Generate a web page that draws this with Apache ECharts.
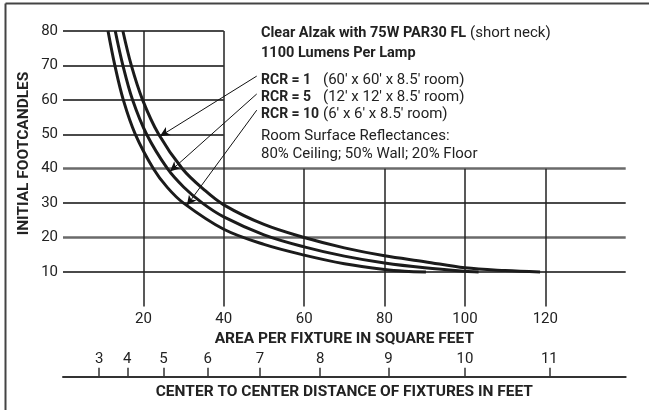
<!DOCTYPE html>
<html><head><meta charset="utf-8">
<script src="https://cdn.jsdelivr.net/npm/echarts@6/dist/echarts.min.js"></script>
<style>html,body{margin:0;padding:0;background:#fff}#c{width:649px;height:410px}</style>
</head><body><div id="c"></div>
<script>
// ---- data ----
const areaRcr1 = [14.9, 17, 19.8, 23.8, 29.7, 35, 40, 50, 60, 70, 80, 90, 100, 110, 118.7];
const fcRcr1   = [80, 70, 60, 50, 40, 34, 29.5, 23.8, 20, 17, 14.7, 13, 11.2, 10.4, 10];
const areaRcr5 = [13.0, 14.9, 17.3, 20.8, 26, 30, 34.7, 40, 50, 60, 70, 80, 90, 100, 103.4];
const fcRcr5   = [80, 70, 60, 50, 40, 34.7, 30, 26, 20.8, 17.3, 14.6, 12.6, 11.2, 10.2, 10];
const areaRcr10 = [11.2, 12.9, 15, 18, 22.5, 26, 30, 40, 50, 60, 70, 80, 85, 90.3];
const fcRcr10   = [80, 70, 60, 50, 40, 34.5, 30, 22.4, 18, 14.9, 12.4, 10.7, 10.2, 10];
const distanceTicks = [3, 4, 5, 6, 7, 8, 9, 10, 11];
// gridline segments [x1,y1,x2,y2] in data units
const hGrid = [[0,80,40,80],[0,70,40,70],[0,60,40,60],[0,50,40,50],[0,40,140,40],[0,30,140,30],[0,20,140,20],[0,10,140,10]];
const vGrid = [[20,0,20,80],[40,0,40,80],[60,0,60,40],[80,0,80,40],[100,0,100,40],[120,0,120,40]];
// arrows: label anchor -> curve point
const arrows = [[48.2,66.9,24.1,49.4],[48.2,61.7,26.6,39.2],[48.2,57.0,30.8,29.3]];

const FONT = 'Roboto, "Liberation Sans", sans-serif';
const chart = echarts.init(document.getElementById('c'), null, {renderer:'canvas'});
const zip = (a,b)=>a.map((v,i)=>[v,b[i]]);
const curve = (name, a, f) => ({name, type:'line', data: zip(a,f), smooth:0.35,
  symbol:'none', lineStyle:{color:'#1b1b1b', width:3}, z:5, silent:true});

function seg(s, style) {
  const p = {coord:[s[0],s[1]]};
  if (style) p.lineStyle = style;
  return [p, {coord:[s[2],s[3]]}];
}
const gridLines = [];
hGrid.forEach(s => {
  const heavy = (s[1]===40 || s[1]===20);
  gridLines.push(seg(s, {color: heavy?'#6a6a6a':'#4a4a4a', width: heavy?2.5:2, type:'solid'}));
});
vGrid.forEach(s => gridLines.push(seg(s, {color:'#222', width:1.5, type:'solid'})));

const txt = (x, y, text, bold, size) => ({type:'text', x, y,
  style:{text, font:(bold?'bold ':'')+(size||15)+'px '+FONT, fill:'#222', textVerticalAlign:'middle'}});

chart.setOption({
  animation:false,
  grid:{left:63, right:23.3, top:31, bottom:103.6},
  xAxis:[{
    type:'value', min:0, max:140, interval:20,
    axisLine:{show:false}, axisTick:{show:false}, splitLine:{show:false},
    axisLabel:{color:'#222', fontFamily:FONT, fontSize:15, margin:5,
      formatter:v => (v===0||v===140)?'':String(v)},
    name:'AREA PER FIXTURE IN SQUARE FEET', nameLocation:'middle', nameGap:22,
    nameTextStyle:{fontFamily:FONT, fontWeight:'bold', fontSize:15.5, color:'#222', verticalAlign:'top'}
  },{
    type:'value', min:0, max:140, position:'bottom', offset:70.3,
    axisLine:{show:true, lineStyle:{color:'#333', width:2}},
    axisTick:{show:true, inside:true, length:9, customValues: distanceTicks.map(d=>d*d), lineStyle:{color:'#333', width:1.5}},
    axisLabel:{show:true, inside:true, margin:10, customValues: distanceTicks.map(d=>d*d),
      color:'#222', fontFamily:FONT, fontSize:15, formatter:v=>String(Math.round(Math.sqrt(v)))},
    splitLine:{show:false},
    name:'CENTER TO CENTER DISTANCE OF FIXTURES IN FEET', nameLocation:'middle', nameGap:7,
    nameTextStyle:{fontFamily:FONT, fontWeight:'bold', fontSize:15.5, color:'#222', verticalAlign:'top'}
  }],
  yAxis:{
    type:'value', min:0, max:80, interval:10,
    axisLine:{show:false}, axisTick:{show:false}, splitLine:{show:false},
    axisLabel:{color:'#222', fontFamily:FONT, fontSize:15, margin:5, formatter:v=>v===0?'':String(v)}
  },
  series:[
    {type:'line', data:[], silent:true, z:2,
      markLine:{silent:true, symbol:['none','none'], animation:false, label:{show:false},
        data: gridLines}},
    curve('RCR = 1', areaRcr1, fcRcr1),
    curve('RCR = 5', areaRcr5, fcRcr5),
    curve('RCR = 10', areaRcr10, fcRcr10),
    {type:'line', data:[], silent:true, z:6,
      markLine:{silent:true, symbol:['none','arrow'], symbolSize:[7,10], animation:false, label:{show:false},
        lineStyle:{color:'#111', width:1, type:'solid'},
        data: arrows.map(s=>seg(s))}}
  ],
  graphic:[
    {type:'line', shape:{x1:5.5,y1:3.5,x2:649,y2:3.5}, style:{stroke:'#444', lineWidth:2}},
    {type:'line', shape:{x1:5.5,y1:3.5,x2:5.5,y2:410}, style:{stroke:'#444', lineWidth:2}},
    {type:'text', x:24, y:153.5, rotation:Math.PI/2, style:{text:'INITIAL FOOTCANDLES', font:'bold 15.5px '+FONT, fill:'#222', textAlign:'center', textVerticalAlign:'middle'}},
    txt(261, 33, 'Clear Alzak with 75W PAR30 FL', true, 14.5),
    txt(470, 33, '(short neck)', false),
    txt(261, 53.5, '1100 Lumens Per Lamp', true, 14.5),
    txt(261, 80, 'RCR = 1', true, 14),
    txt(261, 97.3, 'RCR = 5', true, 14),
    txt(261, 114, 'RCR = 10', true, 14),
    txt(323, 80, "(60' x 60' x 8.5' room)", false),
    txt(323, 97.3, "(12' x 12' x 8.5' room)", false),
    txt(323, 114, "(6' x 6' x 8.5' room)", false),
    txt(261, 136, 'Room Surface Reflectances:', false),
    txt(261, 154, '80% Ceiling; 50% Wall; 20% Floor', false)
  ]
});
</script></body></html>
